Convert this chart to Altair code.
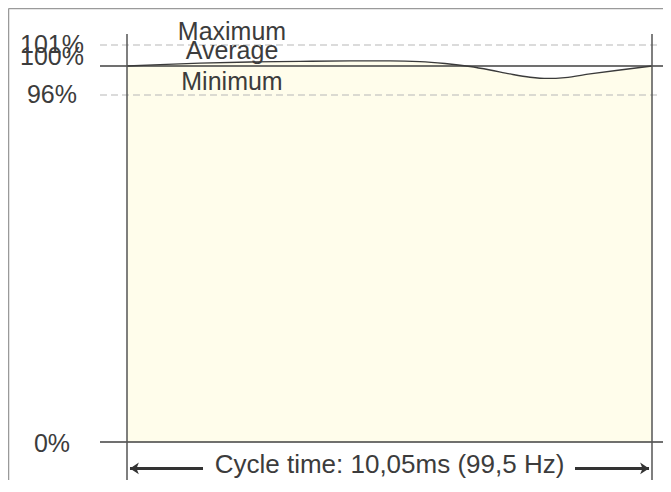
import altair as alt
import pandas as pd

# ---- data ----
time_ms = [0, 0.632, 1.397, 2.355, 3.312, 4.269, 5.035, 5.609, 6.087, 6.566,
           6.949, 7.332, 7.715, 8.059, 8.385, 8.863, 9.437, 10.05]
load_pct = [100.0, 100.07, 100.14, 100.19, 100.22, 100.24, 100.24, 100.21, 100.12, 99.93,
            99.45, 98.9, 98.45, 98.28, 98.4, 98.9, 99.45, 100.0]

ref_levels = [101, 100, 96, 0]
ref_labels = ["101%", "100%", "96%", "0%"]
ref_dashed = [True, False, True, False]

series_labels = ["Maximum", "Average", "Minimum"]
cycle_ms = 10.05
cycle_text = "Cycle time: 10,05ms (99,5 Hz)"

# ---- layout (in data units) ----
ref_label_x = -1.436
ref_label_y = [100.62, 100.05, 93.79, -2.77]
series_label_x = 2.01
series_label_y = [101.26, 100.31, 96.69]
line_x_start, line_x_end, dash_x_end = -0.517, 10.30, 10.203
vline_y_bottom, vline_y_top = -11.07, 101.52
arrow_y, cycle_text_y = -7.3, -8.6
arrow_left = (0.057, 1.455)
arrow_right = (8.576, 9.993)
frame_x, frame_y = -2.268, 102.74
frame_x_end, frame_y_end = 10.6, -16.0

FONT = "Liberation Sans"
TXT = "#3c3c3c"
FS = 25

def X(f="x"):
    return alt.X(f"{f}:Q", axis=None,
                 scale=alt.Scale(domain=[0, cycle_ms], range=[119, 644], zero=False, nice=False))

def Y(f="y"):
    return alt.Y(f"{f}:Q", axis=None,
                 scale=alt.Scale(domain=[0, 96, 100, 101], range=[434, 87, 58, 37],
                                 zero=False, nice=False))

curve = pd.DataFrame({"x": time_ms, "y": load_pct, "y0": [0] * len(time_ms)})

area = alt.Chart(curve).mark_area(color="#FFFDEB", interpolate="monotone").encode(
    x=X(), y=Y(), y2="y0:Q")
line = alt.Chart(curve).mark_line(color="#3a3a3a", strokeWidth=1.3, interpolate="monotone").encode(
    x=X(), y=Y())

dash_df = pd.DataFrame({
    "x": [line_x_start] * 2, "x2": [dash_x_end] * 2,
    "y": [v for v, d in zip(ref_levels, ref_dashed) if d]})
solid_df = pd.DataFrame({
    "x": [line_x_start] * 2, "x2": [line_x_end] * 2,
    "y": [v for v, d in zip(ref_levels, ref_dashed) if not d]})

dashed = alt.Chart(dash_df).mark_rule(color="#b8b8b8", strokeWidth=1.2, strokeDash=[7, 4]).encode(
    x=X(), x2="x2:Q", y=Y())
solid = alt.Chart(solid_df).mark_rule(color="#404040", strokeWidth=1.3).encode(
    x=X(), x2="x2:Q", y=Y())

vline_df = pd.DataFrame({"x": [0, cycle_ms], "y": [vline_y_bottom] * 2, "y2": [vline_y_top] * 2})
vlines = alt.Chart(vline_df).mark_rule(color="#555555", strokeWidth=1.5).encode(
    x=X(), y=Y(), y2="y2:Q")

frame_h = pd.DataFrame({"x": [frame_x], "x2": [frame_x_end], "y": [frame_y]})
frame_v = pd.DataFrame({"x": [frame_x], "y": [frame_y], "y2": [frame_y_end]})
frame1 = alt.Chart(frame_h).mark_rule(color="#9a9a9a", strokeWidth=1.5).encode(
    x=X(), x2="x2:Q", y=Y())
frame2 = alt.Chart(frame_v).mark_rule(color="#9a9a9a", strokeWidth=1.5).encode(
    x=X(), y=Y(), y2="y2:Q")

ref_text_df = pd.DataFrame({"x": [ref_label_x] * 4, "y": ref_label_y, "t": ref_labels})
ref_text = alt.Chart(ref_text_df).mark_text(
    align="center", baseline="alphabetic", fontSize=FS, font=FONT, color=TXT).encode(
    x=X(), y=Y(), text="t:N")

ser_text_df = pd.DataFrame({"x": [series_label_x] * 3, "y": series_label_y, "t": series_labels})
ser_text = alt.Chart(ser_text_df).mark_text(
    align="center", baseline="alphabetic", fontSize=FS, font=FONT, color=TXT).encode(
    x=X(), y=Y(), text="t:N")

cyc_df = pd.DataFrame({"x": [cycle_ms / 2], "y": [cycle_text_y], "t": [cycle_text]})
cyc_text = alt.Chart(cyc_df).mark_text(
    align="center", baseline="alphabetic", fontSize=26, font=FONT, color=TXT).encode(
    x=X(), y=Y(), text="t:N")

shaft_df = pd.DataFrame({"x": [arrow_left[0], arrow_right[0]],
                         "x2": [arrow_left[1], arrow_right[1]],
                         "y": [arrow_y] * 2})
shafts = alt.Chart(shaft_df).mark_rule(color="#333333", strokeWidth=3).encode(
    x=X(), x2="x2:Q", y=Y())

head_l = alt.Chart(pd.DataFrame({"x": [arrow_left[0]], "y": [arrow_y]})).mark_point(
    shape="M0,0 L1.5,-1 L1.1,0 L1.5,1 Z", size=140, filled=True, color="#333333", opacity=1).encode(
    x=X(), y=Y())
head_r = alt.Chart(pd.DataFrame({"x": [arrow_right[1]], "y": [arrow_y]})).mark_point(
    shape="M0,0 L-1.5,-1 L-1.1,0 L-1.5,1 Z", size=140, filled=True, color="#333333", opacity=1).encode(
    x=X(), y=Y())

chart = alt.layer(
    frame1, frame2, area, dashed, solid, line, vlines,
    ref_text, ser_text, shafts, head_l, head_r, cyc_text
).properties(
    width=655, height=472,
    autosize=alt.AutoSizeParams(type="none"),
    padding=0,
).configure_view(strokeWidth=0)

chart.save("out.html", embed_options={"renderer": "svg", "actions": False})
